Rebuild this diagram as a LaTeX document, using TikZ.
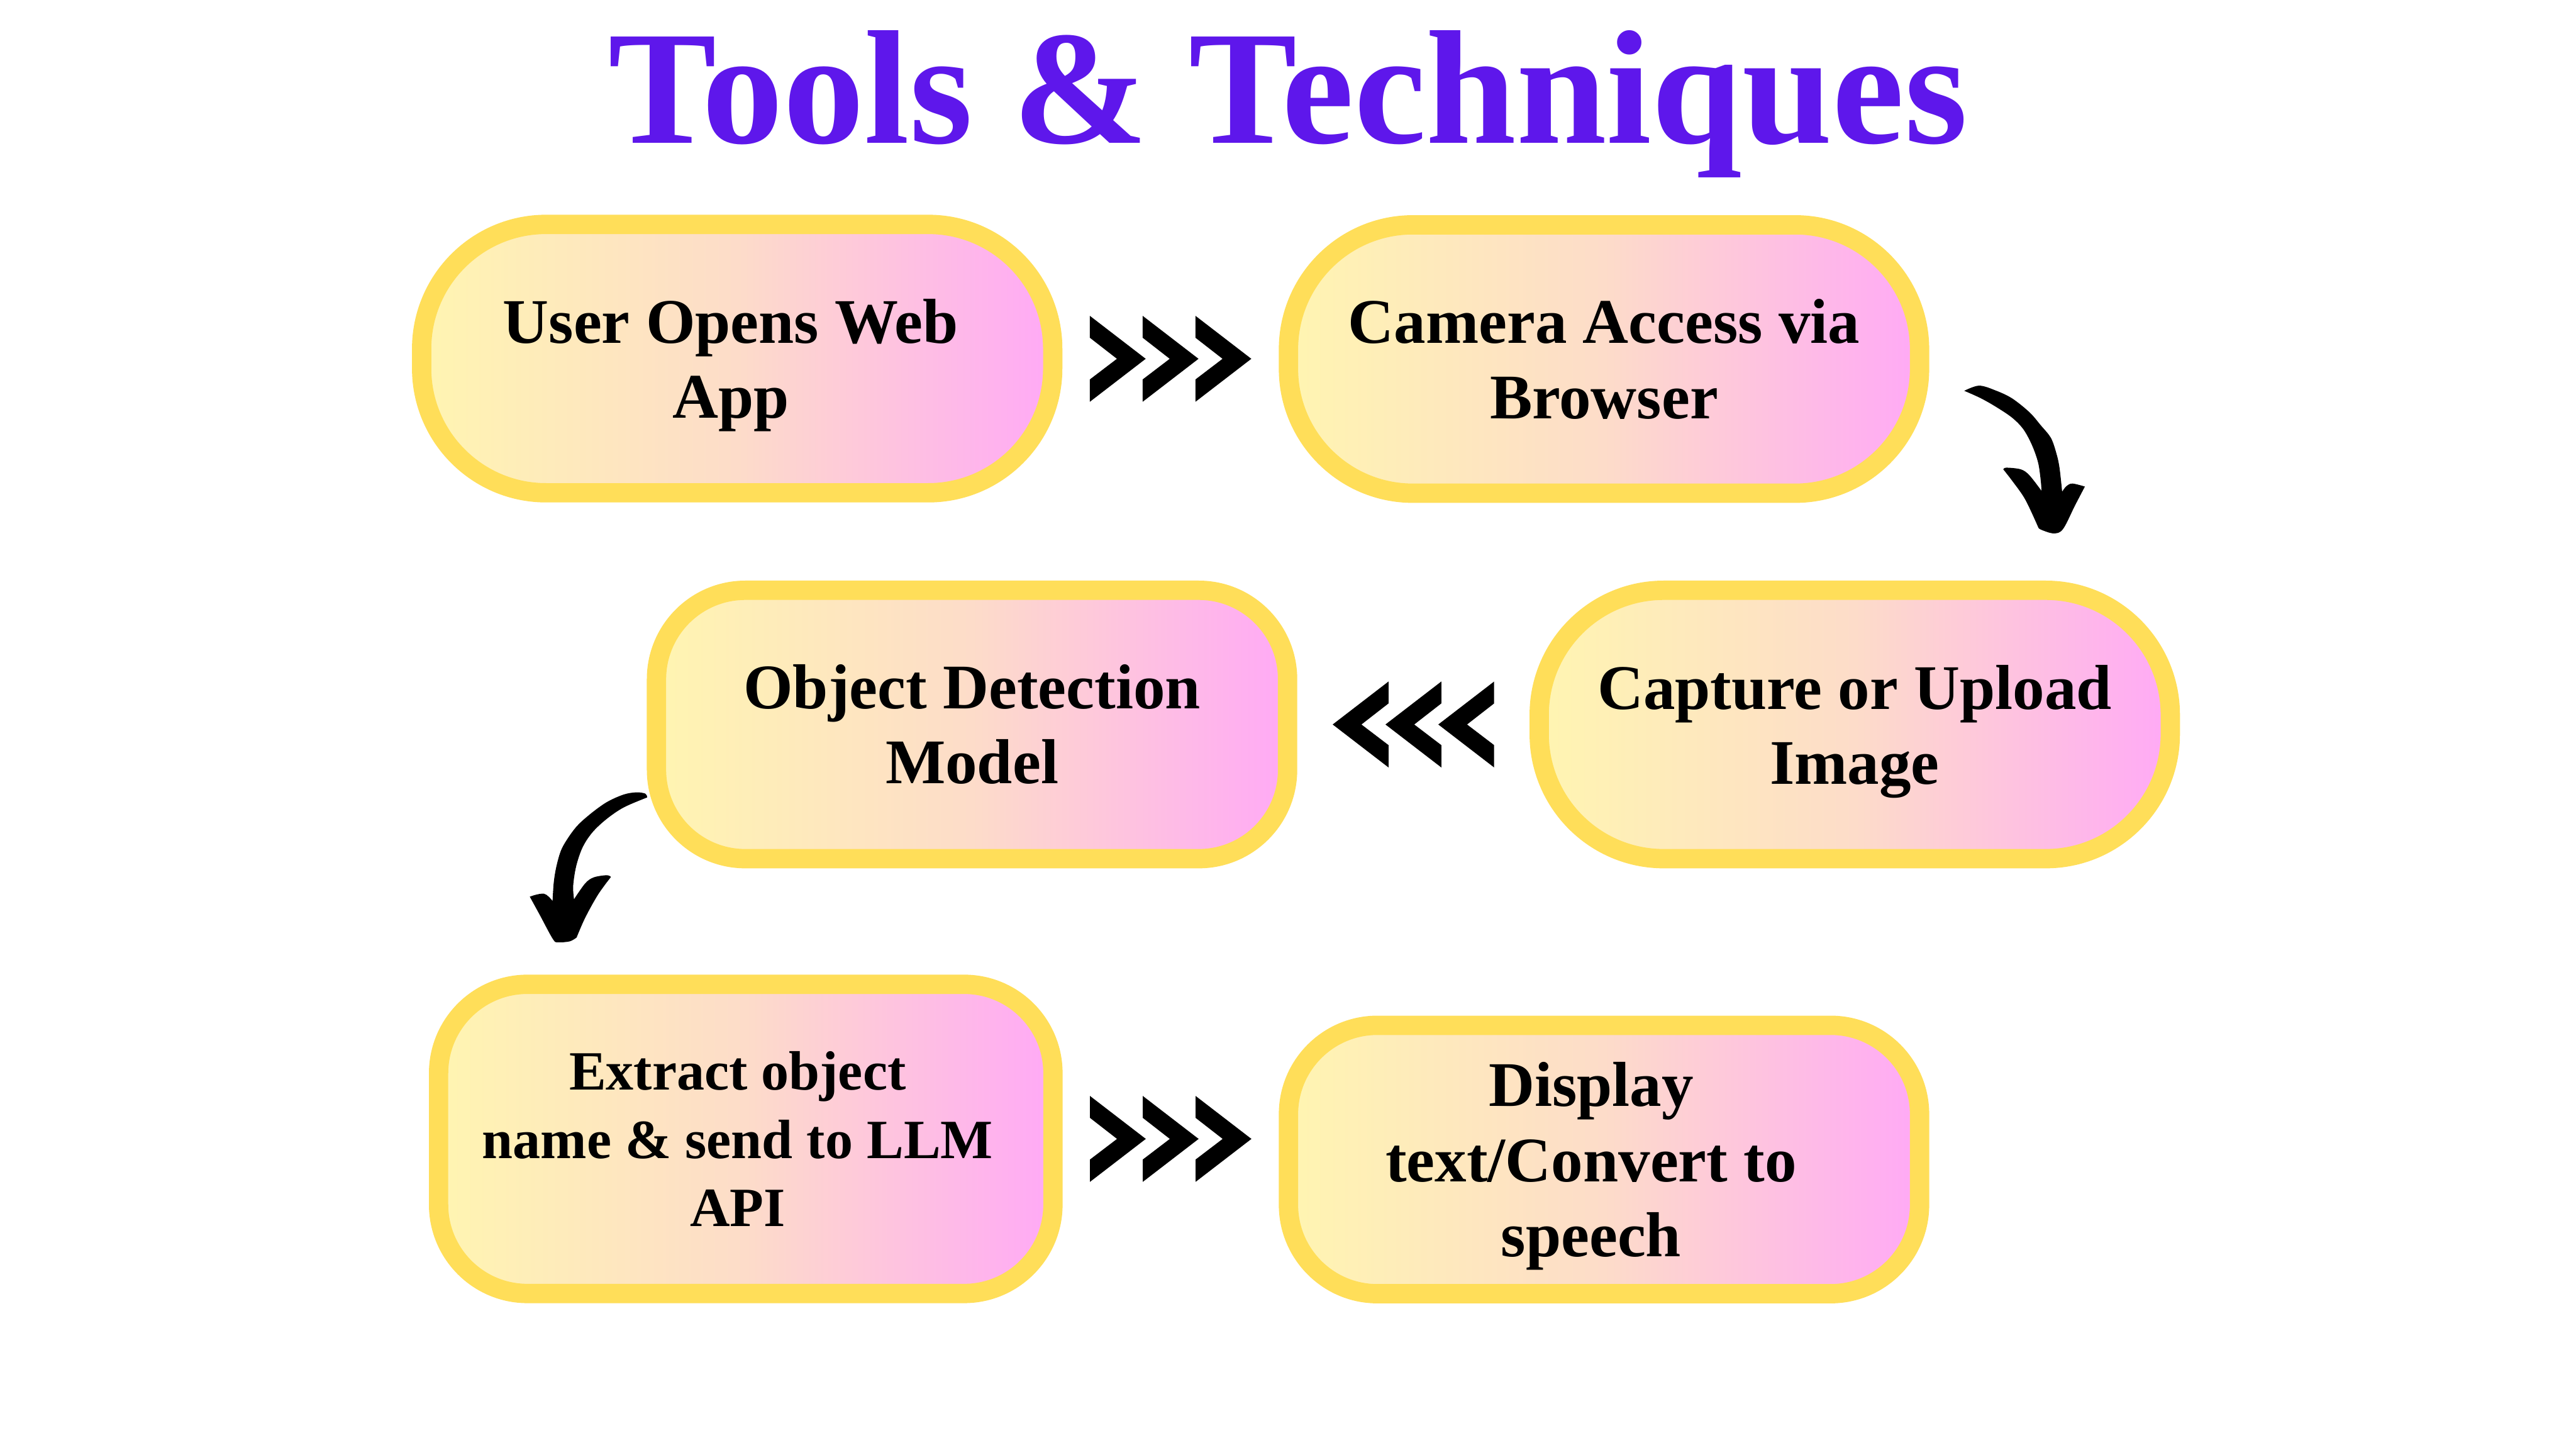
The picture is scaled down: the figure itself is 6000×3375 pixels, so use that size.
\documentclass[tikz,border=0pt]{standalone}
\usepackage{fontspec}
\setmainfont{Liberation Serif}
\usetikzlibrary{calc}
\definecolor{titlecol}{HTML}{5E17EB}
\definecolor{bordercol}{HTML}{FFDE59}
\definecolor{gleft}{HTML}{FFF5B1}
\definecolor{gmid}{HTML}{FDDCC9}
\definecolor{gright}{HTML}{FFA9F6}
\newcommand{\nodep}[1]{\raisebox{0pt}[\height][0pt]{#1}}
\tikzset{
  stepbox/.style={draw=bordercol, line width=4.5pt, left color=gleft, right color=gright, middle color=gmid,
    rounded corners=29pt, minimum width=147pt, minimum height=62.5pt, inner sep=0pt},
  smallcorner/.style={rounded corners=20.7pt},
  boxtext/.style={inner sep=0pt, align=center, font=\bfseries\fontsize{14.8}{17.5}\selectfont},
  smalltext/.style={inner sep=0pt, align=center, font=\bfseries\fontsize{12.9}{15.85}\selectfont},
  chevs/.pic={\foreach \l in {-188,-65,58} {\fill[black] (\l,-100) -- ++(130,100) -- ++(-130,100) -- ++(0,-52) -- ++(63,-48) -- ++(-63,-49) -- cycle;}},
  brush/.style={fill=black}
}
\begin{document}
\begin{tikzpicture}[x=0.1pt,y=-0.1pt]
\useasboundingbox[fill=white] (0,0) rectangle (6000,3375);

\node[anchor=base, text=titlecol, font=\bfseries\fontsize{37.8}{40}\selectfont] (title) at (3000,333) {Tools \& Techniques};

\node[stepbox] (b1) at (1717,835) {};
\node[stepbox] (b2) at (3736,836) {};
\node[stepbox] (b3) at (4320,1687) {};
\node[stepbox, smallcorner] (b4) at (2264,1687) {};
\node[stepbox, smallcorner, minimum width=143.1pt, minimum height=72pt] (b5) at (1737,2652) {};
\node[stepbox, smallcorner] (b6) at (3736,2700) {};

\node[boxtext] (t1) at ([xshift=-1.5pt]b1.center) {User Opens Web\\\nodep{App}};
\node[boxtext] (t2) at (b2.center) {Camera Access via\\Browser};
\node[boxtext] (t3) at (b3.center) {Capture or Upload\\\nodep{Image}};
\node[boxtext] (t4) at (b4.center) {Object Detection\\Model};
\node[smalltext] (t5) at ([xshift=-1.9pt]b5.center) {Extract object\\name \& send to LLM\\API};
\node[boxtext] (t6) at ([xshift=-3pt]b6.center) {Display\\text/Convert to\\\nodep{speech}};

% chevron connectors
\coordinate (c12) at ($(b1.east)!0.5!(b2.west)$);
\coordinate (c34) at ($(b4.east)!0.5!(b3.west)$);
\coordinate (c56) at ($(b5.east)!0.5!(b6.west|-b5.east)$);
\pic at (c12) {chevs};
\pic[xscale=-1] at (c34) {chevs};
\pic at (c56) {chevs};

% curved arrow b2 -> b3
\fill[brush] plot[smooth,tension=0.55] coordinates {(4575,910) (4610,898) (4650,910) (4687,928) (4727,960) (4753,990) (4777,1020) (4790,1057) (4797,1090) (4803,1145)}
 -- plot[smooth,tension=0.55] coordinates {(4803,1145) (4813,1132) (4827,1126) (4856,1133)}
 -- plot[smooth,tension=0.55] coordinates {(4856,1133) (4833,1177) (4805,1232) (4783,1242) (4753,1233) (4747,1227)}
 -- plot[smooth,tension=0.55] coordinates {(4747,1227) (4717,1163) (4687,1120) (4666,1093)}
 -- plot[smooth,tension=0.55] coordinates {(4666,1093) (4673,1089) (4707,1093) (4727,1107) (4755,1143)}
 -- plot[smooth,tension=0.55] coordinates {(4755,1143) (4753,1117) (4747,1077) (4733,1037) (4713,1000) (4687,973) (4650,948) (4613,927) (4575,910)}
 -- cycle;

% curved arrow b4 -> b5
\fill[brush] plot[smooth,tension=0.55] coordinates {(1507,1855) (1503,1848) (1483,1845) (1453,1850) (1413,1868) (1373,1897) (1340,1928) (1310,1973) (1297,2013) (1290,2053) (1287,2098)}
 -- plot[smooth,tension=0.55] coordinates {(1287,2098) (1278,2088) (1267,2081) (1250,2083) (1234,2088)}
 -- plot[smooth,tension=0.55] coordinates {(1234,2088) (1257,2130) (1288,2187) (1300,2194) (1327,2192) (1343,2183)}
 -- plot[smooth,tension=0.55] coordinates {(1343,2183) (1363,2137) (1393,2083) (1423,2042)}
 -- plot[smooth,tension=0.55] coordinates {(1423,2042) (1413,2038) (1383,2043) (1363,2057) (1337,2094)}
 -- plot[smooth,tension=0.55] coordinates {(1337,2094) (1335,2063) (1342,2017) (1357,1973) (1380,1938) (1413,1907) (1453,1880) (1507,1857)}
 -- cycle;
\end{tikzpicture}
\end{document}
